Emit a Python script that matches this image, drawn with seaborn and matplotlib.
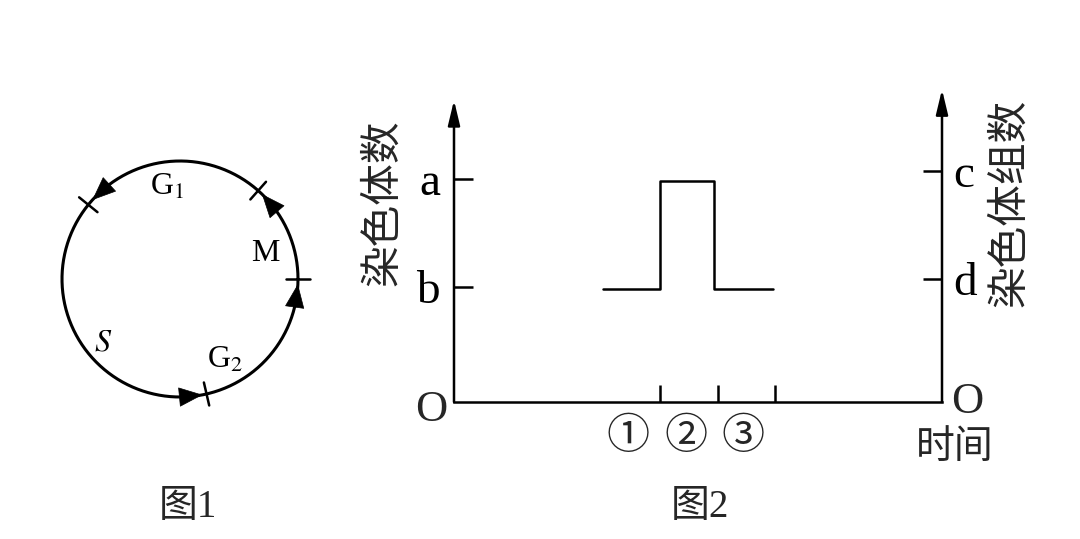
import numpy as np
import matplotlib
matplotlib.use('Agg')
import matplotlib.pyplot as plt
import seaborn as sns

# 图2: 染色体数随时间变化 (step line)
step_t = [0, 1, 1, 1.94, 1.94, 2.96]
step_n = [0.98, 0.98, 1.92, 1.92, 0.98, 0.98]
time_ticks = [1, 2, 3]
stage_labels = ['①', '②', '③']
left_ticks = [1.0, 1.94]
left_labels = ['b', 'a']
right_ticks = [1.07, 2.01]
right_labels = ['d', 'c']

# 图1: 细胞周期 (counter-clockwise, degrees)
phase_bounds = [48.5, 141, 283, 0]
arrow_tips = [46, 138, 281, -2.5]
phase_names = ['G$_1$', '$S$', 'G$_2$', 'M']
phase_label_xy = [(-0.11, 0.78), (-0.65, -0.54), (0.38, -0.69), (0.72, 0.22)]

sns.set_theme(style='white')
plt.rcParams['font.family'] = ['Liberation Serif', 'Noto Sans CJK SC', 'DejaVu Sans']
plt.rcParams['mathtext.fontset'] = 'stix'
cjk = ['Noto Sans CJK SC', 'DejaVu Sans']
serif_cjk = ['Liberation Serif', 'Noto Sans CJK SC']

W, H = 1080, 539
fig = plt.figure(figsize=(W / 100, H / 100), dpi=100)
fig.patch.set_facecolor('white')


def px(x, y):
    return x / W, 1 - y / H


# ---------- 图1 ----------
ax1 = fig.add_axes([30 / W, 110 / H, 300 / W, 300 / H])
lim = 150 / 118
ax1.set_xlim(-lim, lim)
ax1.set_ylim(-lim, lim)
ax1.set_aspect('equal')
ax1.axis('off')

th = np.linspace(0, 2 * np.pi, 400)
ax1.plot(np.cos(th), np.sin(th), color='black', lw=2.2)

for b in phase_bounds:
    r = np.radians(b)
    ax1.plot([0.9 * np.cos(r), 1.1 * np.cos(r)], [0.9 * np.sin(r), 1.1 * np.sin(r)],
             color='black', lw=1.8)

for tip in arrow_tips:
    t1 = np.radians(tip)
    t0 = np.radians(tip - 11)
    ax1.annotate('', xy=(np.cos(t1), np.sin(t1)), xytext=(np.cos(t0), np.sin(t0)),
                 arrowprops=dict(arrowstyle='-|>,head_length=0.8,head_width=0.33',
                                 color='black', lw=0.5, shrinkA=0, shrinkB=0,
                                 mutation_scale=20))

for name, (lx, ly) in zip(phase_names, phase_label_xy):
    ax1.text(lx, ly, name, fontsize=23, ha='center', va='center', color='black')

# ---------- 图2 ----------
ax2 = fig.add_axes([454 / W, (H - 402) / H, 488 / W, 316 / H])
ax2.set_facecolor('none')
xlim = (-2.583, 5.904)
ylim = (0, 2.75)
ax2.set_xlim(*xlim)
ax2.set_ylim(*ylim)

sns.lineplot(x=step_t, y=step_n, ax=ax2, color='black', lw=1.8,
             estimator=None, sort=False)

for s in ['top', 'left', 'right']:
    ax2.spines[s].set_visible(False)
ax2.spines['bottom'].set_linewidth(1.8)
ax2.spines['bottom'].set_color('black')

arrow = dict(arrowstyle='-|>,head_length=0.75,head_width=0.18', color='black',
             lw=1.8, shrinkA=0, shrinkB=0, mutation_scale=20)
ax2.annotate('', xy=(0, 2.626), xycoords=('axes fraction', 'data'),
             xytext=(0, 0), textcoords=('axes fraction', 'data'), arrowprops=arrow)
ax2.annotate('', xy=(1, 2.72), xycoords=('axes fraction', 'data'),
             xytext=(1, 0), textcoords=('axes fraction', 'data'), arrowprops=arrow)

ax2.set_xticks(time_ticks)
ax2.set_xticklabels([])
ax2.tick_params(axis='x', direction='in', length=12.5, width=1.8, color='black',
                bottom=True)
ax2.set_yticks(left_ticks)
ax2.set_yticklabels(left_labels)
ax2.tick_params(axis='y', direction='in', length=14, width=1.8, color='black',
                left=True, pad=10, labelsize=34, labelcolor='black')

ax3 = ax2.twinx()
ax3.set_ylim(*ylim)
for s in ax3.spines.values():
    s.set_visible(False)
ax3.set_yticks(right_ticks)
ax3.set_yticklabels(right_labels)
ax3.tick_params(axis='y', direction='in', length=14, width=1.8, color='black',
                right=True, pad=8, labelsize=34, labelcolor='black')
ax2.grid(False)
ax3.grid(False)

for t, lab in zip(time_ticks, stage_labels):
    ax2.text(t - 0.55, -0.32, lab, fontsize=31, ha='center', va='center',
             family=serif_cjk, clip_on=False)

# labels around the axes
fig.text(*px(431, 410), 'O', fontsize=32, ha='center', va='center')
fig.text(*px(967, 402), 'O', fontsize=32, ha='center', va='center')
fig.text(*px(955, 447), '时间', fontsize=28, ha='center', va='center', family=cjk)
fig.text(*px(383, 203), '染色体数', fontsize=30, ha='center', va='center',
         rotation=90, family=cjk)
fig.text(*px(1010, 203), '染色体组数', fontsize=30, ha='center', va='center',
         rotation=90, family=cjk)
fig.text(*px(188, 507), '图1', fontsize=28, ha='center', va='center', family=serif_cjk)
fig.text(*px(700, 507), '图2', fontsize=28, ha='center', va='center', family=serif_cjk)

fig.savefig('out.png', dpi=100, facecolor='white')
